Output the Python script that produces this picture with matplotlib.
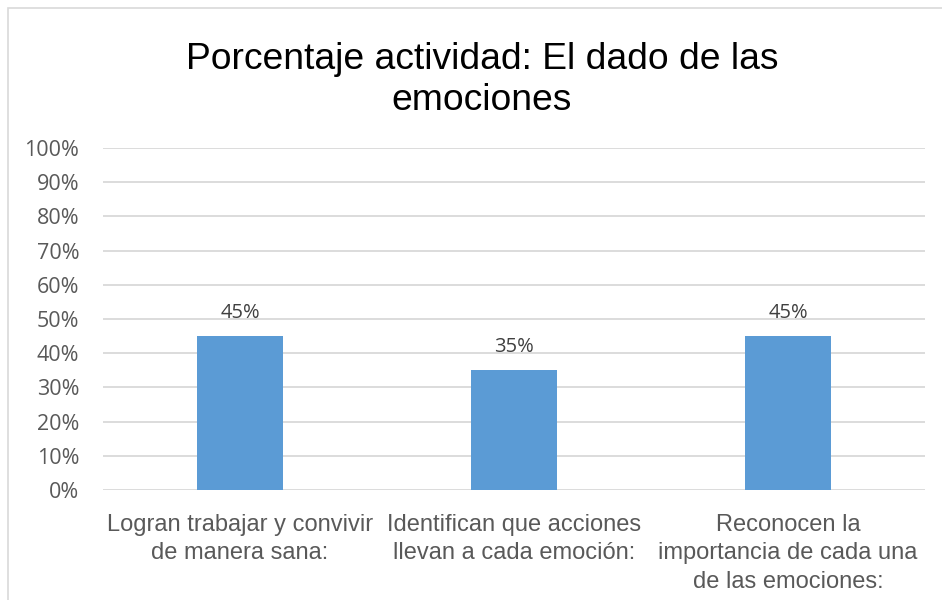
import matplotlib.pyplot as plt
from matplotlib.patches import Rectangle
import numpy as np

categorias = ["Logran trabajar y convivir\nde manera sana:",
              "Identifican que acciones\nllevan a cada emoción:",
              "Reconocen la\nimportancia de cada una\nde las emociones:"]
valores = [45, 35, 45]
etiquetas_y = ["0%", "10%", "20%", "30%", "40%", "50%", "60%", "70%", "80%", "90%", "100%"]
titulo = "Porcentaje actividad: El dado de las\nemociones"

fig = plt.figure(figsize=(9.42, 6.0), dpi=100)
fig.patches.append(Rectangle((8/942, -0.1), 1.2, 1 - 8/600 + 0.1, transform=fig.transFigure,
                             fill=False, edgecolor='#d9d9d9', linewidth=1.2))
ax = fig.add_axes([103/942, 1-490/600, 822/942, 342/600])

x = np.arange(len(valores))
ax.bar(x, valores, width=0.315, color='#5b9bd5', zorder=3)
for xi, v in zip(x, valores):
    ax.text(xi, v + 3.8, f"{v}%", ha='center', va='bottom', fontsize=14.5,
            color='#404040', family='Open Sans')

ax.set_xlim(-0.5, 2.5)
ax.set_ylim(0, 100)
ax.set_yticks(np.arange(0, 101, 10))
ax.set_yticklabels(etiquetas_y, fontsize=15.5, color='#595959', family='Open Sans')
ax.set_xticks(x)
ax.set_xticklabels(categorias, fontsize=17, color='#595959',
                   family=['Liberation Sans Narrow', 'Liberation Sans'], linespacing=1.38)
ax.tick_params(axis='both', length=0)
ax.tick_params(axis='y', pad=17)
ax.tick_params(axis='x', pad=17)
ax.grid(axis='y', color='#d9d9d9', linewidth=1.3, zorder=0)
for s in ax.spines.values():
    s.set_visible(False)

fig.text(482/942, 1-80/600, titulo, ha='center', va='center', fontsize=26.8,
         family='Liberation Sans', color='black', linespacing=1.2)

fig.savefig("out.png", dpi=100)
